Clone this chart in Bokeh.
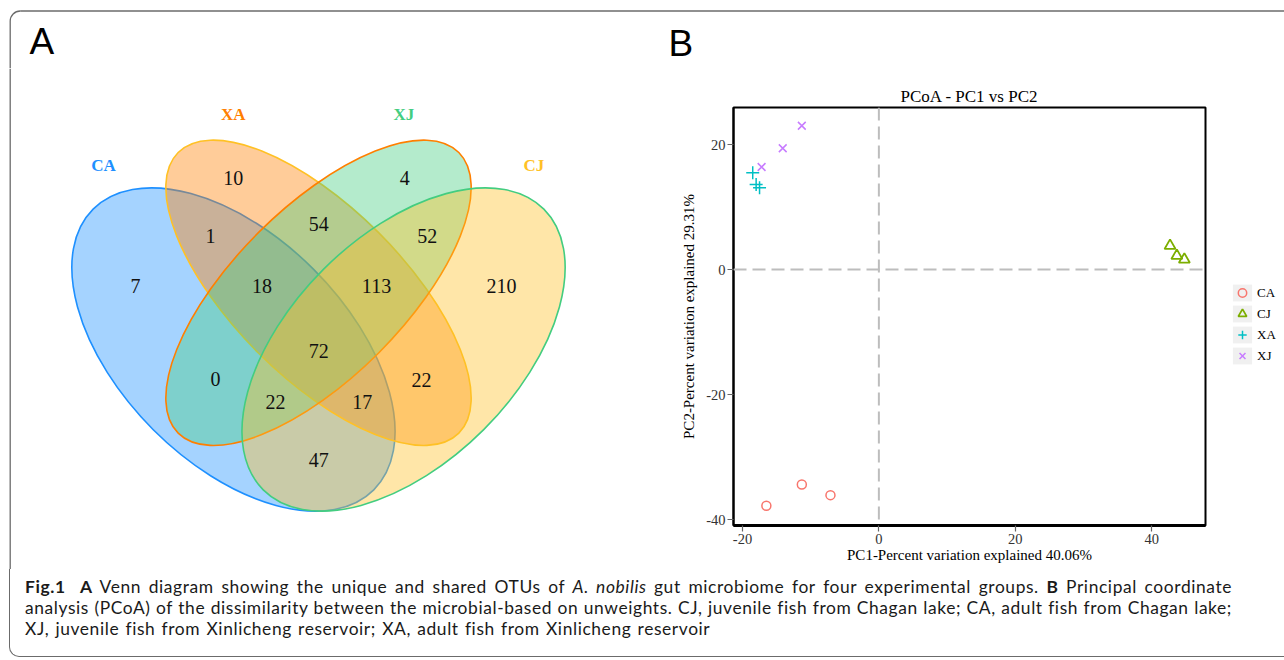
import math
from bokeh.plotting import figure
from bokeh.models import Range1d, FixedTicker, Span, Legend, LegendItem, Div
from bokeh.layouts import column, row
from bokeh.embed import file_html
from bokeh.resources import INLINE
from bokeh.core.properties import value

# ---------------- data ----------------
venn_sets = ["CA", "XA", "XJ", "CJ"]
# region counts: 7(CA only),10(XA only),1(CA&XA),54(XA&XJ),4(XJ only),52(XJ&CJ),
# 18(CA&XA&XJ),113(XA&XJ&CJ),210(CJ only),72(all),0(CA&XJ),22(CA&XJ&CJ),
# 17(CA&XA&CJ),22(XA&CJ),47(CA&CJ)
venn_region_counts = [7, 10, 1, 54, 4, 52, 18, 113, 210, 72, 0, 22, 17, 22, 47]

pcoa_groups = ["CA", "CJ", "XA", "XJ"]
pc1_CA = [-16.5, -11.3, -7.1]
pc2_CA = [-37.8, -34.4, -36.1]
pc1_CJ = [42.7, 43.7, 44.8]
pc2_CJ = [3.8, 2.2, 1.6]
pc1_XA = [-18.5, -18.0, -17.5]
pc2_XA = [15.5, 13.6, 13.1]
pc1_XJ = [-17.2, -14.1, -11.3]
pc2_XJ = [16.4, 19.4, 23.0]
x_ticks = [-20, 0, 20, 40]
y_ticks = [-40, -20, 0, 20]
pc1_label = "PC1-Percent variation explained 40.06%"
pc2_label = "PC2-Percent variation explained 29.31%"
pcoa_title = "PCoA - PC1 vs PC2"

caption_lines = [
    [("Fig.1", "bold"), ("A", "bold"),
     ("Venn diagram showing the unique and shared OTUs of", "normal"),
     ("A. nobilis", "italic"),
     ("gut microbiome for four experimental groups.", "normal"),
     ("B", "bold"), ("Principal coordinate", "normal")],
    [("analysis (PCoA) of the dissimilarity between the microbial-based on unweights. "
      "CJ, juvenile fish from Chagan lake; CA, adult fish from Chagan lake;", "normal")],
    [("XJ, juvenile fish from Xinlicheng reservoir; XA, adult fish from Xinlicheng reservoir", "normal")],
]

# ---------------- styles / layout ----------------
SERIF = value("Liberation Serif")
SANS = value("Liberation Sans")
BORDER = "#6b6b6b"
BW = 1.3
BX = 9.7      # left border x (page px)
BY = 10.5     # top border y (page px)
RAD = 10

venn_fill = ["#1E90FF", "#FF7F00", "#43CD80", "#FFC125"]
venn_line = ["#1E90FF", "#FFC125", "#FF7F00", "#43CD80"]
venn_label_color = ["#1E90FF", "#FF7F00", "#43CD80", "#FFC125"]

# Venn geometry (VennDiagram-style unit coordinates mapped to page pixels)
UNIT = 567.0
OX, OY = 34.5, 615.5
ell_cx = [0.35, 0.50, 0.50, 0.65]
ell_cy = [0.47, 0.57, 0.57, 0.47]
ell_a = 0.35
ell_b = [0.20, 0.15, 0.15, 0.20]
ell_rot = [-45, -45, 45, 45]
set_label_px = [(103, 165), (232.7, 114), (403.3, 114), (533.3, 165)]
region_px_x = [135, 232.7, 210, 318.3, 404.3, 426.7, 261.5, 376, 501, 318.3, 215, 275, 361.7, 421, 318.3]
region_px_y = [285.5, 177.5, 235, 223.3, 177.5, 235, 285.5, 285.5, 285.5, 350, 378.5, 401.7, 401.7, 379, 459]

TOP_H = 68
ROW_H = 501
VENN_W = 652
PC_W = 574
LEG_W = 58


def blank(width, height, xr, yr):
    f = figure(width=width, height=height, output_backend="svg", toolbar_location=None,
               x_range=Range1d(*xr), y_range=Range1d(*yr),
               x_axis_location=None, y_axis_location=None, min_border=0, frame_align=False)
    f.grid.visible = False
    f.outline_line_color = None
    f.background_fill_color = "white"
    f.border_fill_color = "white"
    return f


# ---- top strip: frame border, panel letters ----
top = blank(1284, TOP_H, (0, 1284), (-TOP_H, 0))
top.line([BX + RAD, 1284], [-BY, -BY], line_color=BORDER, line_width=BW)
top.arc(x=[BX + RAD], y=[-(BY + RAD)], radius=RAD, start_angle=math.pi / 2, end_angle=math.pi,
        line_color=BORDER, line_width=BW)
top.line([BX, BX], [-(BY + RAD), -TOP_H], line_color=BORDER, line_width=BW)
top.text(x=[29, 668], y=[-41, -43], text=["A", "B"], text_font=SANS, text_font_size="37px",
         text_color="black", text_align="left", text_baseline="middle")

# ---- Venn panel (page-pixel coordinates, y negated) ----
venn = blank(VENN_W, ROW_H, (0, VENN_W), (-(TOP_H + ROW_H), -TOP_H))
venn.line([BX, BX], [-(TOP_H + ROW_H), -TOP_H], line_color=BORDER, line_width=BW)

for i, name in enumerate(venn_sets):
    cx = OX + ell_cx[i] * UNIT
    cy = -(OY - ell_cy[i] * UNIT)
    venn.ellipse(x=[cx], y=[cy], width=2 * ell_a * UNIT, height=2 * ell_b[i] * UNIT,
                 angle=math.radians(ell_rot[i]), fill_color=venn_fill[i], fill_alpha=0.4,
                 line_color=venn_line[i], line_width=1.6)

venn.text(x=[q[0] for q in set_label_px], y=[-q[1] for q in set_label_px], text=venn_sets,
          text_color=venn_label_color, text_font=SERIF, text_font_size="17px",
          text_font_style="bold", text_align="center", text_baseline="middle")
venn.text(x=region_px_x, y=[-v for v in region_px_y], text=[str(c) for c in venn_region_counts],
          text_color="#111111", text_font=SERIF, text_font_size="20px",
          text_align="center", text_baseline="middle")

# ---- PCoA scatter ----
p = figure(width=PC_W, height=ROW_H, output_backend="svg", toolbar_location=None,
           x_range=Range1d(-21.32, 47.9), y_range=Range1d(-40.96, 25.92),
           min_border_left=81, min_border_right=21, min_border_top=39, min_border_bottom=44,
           title=pcoa_title, frame_align=False)
p.title.align = "center"
p.title.text_font = "Liberation Serif"
p.title.text_font_size = "17px"
p.title.text_font_style = "normal"
p.title.text_color = "black"
p.title.standoff = 3
p.grid.visible = False
p.background_fill_color = "white"
p.border_fill_color = "white"
p.outline_line_color = "black"
p.outline_line_width = 2
p.outline_line_alpha = 1

p.xaxis.ticker = FixedTicker(ticks=x_ticks)
p.yaxis.ticker = FixedTicker(ticks=y_ticks)
p.xaxis.major_label_overrides = {t: str(t) for t in x_ticks}
p.yaxis.major_label_overrides = {t: str(t) for t in y_ticks}
p.axis.axis_line_color = "black"
p.xaxis.axis_line_width = 3
p.yaxis.axis_line_width = 2
p.axis.major_tick_out = 6
p.axis.major_tick_in = 0
p.axis.minor_tick_out = 0
p.axis.minor_tick_in = 0
p.axis.major_tick_line_color = "#666666"
p.axis.major_tick_line_width = 1.2
p.axis.major_label_text_font = "Liberation Serif"
p.axis.major_label_text_font_size = "14.5px"
p.axis.major_label_text_color = "#333333"
p.axis.major_label_standoff = 2
p.xaxis.axis_label = pc1_label
p.yaxis.axis_label = pc2_label
p.axis.axis_label_text_font = "Liberation Serif"
p.axis.axis_label_text_font_size = "15px"
p.axis.axis_label_text_font_style = "normal"
p.axis.axis_label_text_color = "black"
p.xaxis.axis_label_standoff = 0
p.yaxis.axis_label_standoff = 6

p.add_layout(Span(location=0, dimension="height", line_color="#BDBDBD", line_width=2, line_dash="13 6"))
p.add_layout(Span(location=0, dimension="width", line_color="#BDBDBD", line_width=2, line_dash="13 6"))

marker_style = {
    "CA": dict(marker="circle", size=9, fill_color=None, line_color="#F8766D", line_width=1.5),
    "CJ": dict(marker="triangle", size=11, fill_color=None, line_color="#7CAE00", line_width=1.8),
    "XA": dict(marker="cross", size=13, line_color="#00BFC4", line_width=1.5),
    "XJ": dict(marker="x", size=11, line_color="#C77CFF", line_width=1.5),
}
pcoa_x = {"CA": pc1_CA, "CJ": pc1_CJ, "XA": pc1_XA, "XJ": pc1_XJ}
pcoa_y = {"CA": pc2_CA, "CJ": pc2_CJ, "XA": pc2_XA, "XJ": pc2_XJ}
for g in pcoa_groups:
    p.scatter(pcoa_x[g], pcoa_y[g], **marker_style[g])

# ---- legend (separate strip to the right of the plot panel) ----
# The strip's own view range lies away from the data, so its renderers only
# feed the legend keys and draw nothing inside the strip.
leg = blank(LEG_W, ROW_H, (1000, 1001), (1000, 1001))
key_bg = leg.quad(left=[0], right=[1], top=[1], bottom=[0], fill_color="#F0F0F0", line_color=None)
leg_items = []
for g in pcoa_groups:
    r = leg.scatter(x=pcoa_x[g], y=pcoa_y[g], **marker_style[g])
    leg_items.append(LegendItem(label=g, renderers=[key_bg, r]))
legend = Legend(items=leg_items, location=(4, 203), orientation="vertical",
                glyph_width=24, glyph_height=21, spacing=0, padding=0, margin=0,
                label_standoff=3, border_line_color=None, background_fill_alpha=0,
                label_text_font="Liberation Serif", label_text_font_size="13px",
                label_text_color="black")
leg.add_layout(legend)

# ---- caption (justified lines, like the journal layout) ----
tag = {"bold": ("<b>", "</b>"), "italic": ("<i>", "</i>"), "normal": ("<span>", "</span>")}
html_lines = []
for li, segs in enumerate(caption_lines):
    parts = []
    n = len(segs)
    for si, (txt, style) in enumerate(segs):
        o, c = tag[style]
        if li == 0 and si == 0:
            sep = "&nbsp; "
        elif si < n - 1:
            sep = " "
        else:
            sep = ""
        parts.append(o + txt + sep + c)
    body = "".join(parts)
    if li < 2:
        align = "text-align:justify;text-align-last:justify;"
    else:
        align = "text-align:left;word-spacing:1.2px;"
    html_lines.append('<div style="%s">%s</div>' % (align, body))

cap_html = ('<div style="margin-left:9px;width:1275px;height:88px;box-sizing:border-box;'
            'border-left:%spx solid %s;border-bottom:%spx solid %s;border-bottom-left-radius:%dpx;'
            'padding:7px 0 0 15px;font-family:Lato;font-size:17.4px;line-height:21px;'
            'letter-spacing:0.6px;color:#1a1a1a;"><div style="width:1207px">%s</div></div>'
            % (BW, BORDER, BW, BORDER, RAD, "".join(html_lines)))
cap = Div(text=cap_html, width=1284, height=90, styles={"margin": "0", "padding": "0"})

layout = column(top, row(venn, p, leg, spacing=0), cap, spacing=0)
open("out.html", "w").write(file_html(layout, INLINE))
